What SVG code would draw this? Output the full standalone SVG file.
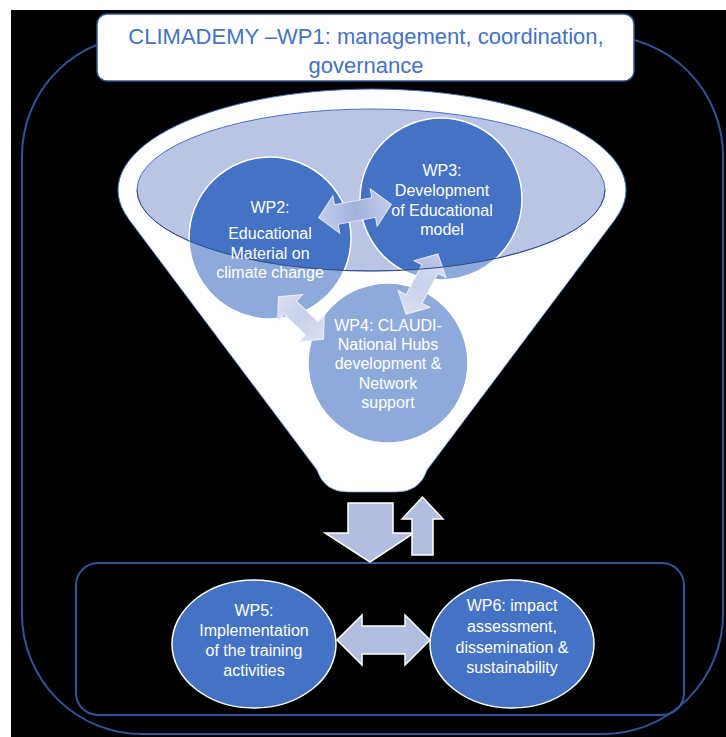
<svg xmlns="http://www.w3.org/2000/svg" width="726" height="737" viewBox="0 0 726 737">
  <defs>
    <style>
      .frame { fill: none; stroke: #2F5597; stroke-width: 2; }
      .wp { fill: #4472C4; stroke: #FFFFFF; stroke-width: 1.5; }
      .lbl { font-family: "Liberation Sans", Arial, sans-serif; font-size: 16px; fill: #FFFFFF; text-anchor: middle; }
      .title { font-family: "Liberation Sans", Arial, sans-serif; font-size: 22px; fill: #4472C4; text-anchor: middle; }
      .flow { fill: #B1BEE0; stroke: #FFFFFF; stroke-width: 1.5; }
      .link { fill: url(#linkFill); stroke: #E4E9F5; stroke-width: 1; }
    </style>
    <linearGradient id="linkFill" x1="0" y1="0" x2="1" y2="0">
      <stop offset="0" stop-color="#C3CCEA"/>
      <stop offset="0.5" stop-color="#A3B3DE"/>
      <stop offset="1" stop-color="#C3CCEA"/>
    </linearGradient>
  </defs>

  <!-- page -->
  <rect x="0" y="0" width="726" height="737" fill="#FFFFFF"/>
  <rect x="11" y="10" width="715" height="727" fill="#000000"/>

  <!-- outer project frame -->
  <rect id="frame-outer" class="frame" x="22" y="36" width="701" height="698" rx="120" ry="120"/>
  <!-- implementation frame -->
  <rect id="frame-inner" class="frame" x="76" y="563" width="608" height="152" rx="22" ry="22"/>

  <!-- funnel body -->
  <g id="funnel">
    <path d="M128.6,218.9 A254,101 0 1 1 615.4,218.9 L427,470 Q420,492 396,492 L348,492 Q324,492 317,470 Z" fill="#FFFFFF" stroke="#4472C4" stroke-width="1"/>
    <ellipse cx="371" cy="190" rx="234" ry="81" fill="#BAC4E4" stroke="#4472C4" stroke-width="1"/>
  </g>

  <!-- work package circles inside the funnel -->
  <g id="wp2"><circle class="wp" cx="270" cy="238" r="81"/></g>
  <g id="wp3"><circle class="wp" cx="441" cy="199" r="81"/></g>
  <g id="wp4"><circle class="wp" cx="388" cy="363" r="80"/></g>

  <!-- links between the funnel work packages -->
  <g id="links">
    <path class="link" transform="translate(355,211) rotate(-10.5)" d="M-37,0 L-19,-19 L-19,-10 L19,-10 L19,-19 L37,0 L19,19 L19,10 L-19,10 L-19,19 Z"/>
    <path class="link" transform="translate(301,318) rotate(43.5)" d="M-31,0 L-15,-18 L-15,-9 L15,-9 L15,-18 L31,0 L15,18 L15,9 L-15,9 L-15,18 Z"/>
    <path class="link" transform="translate(422,284) rotate(-62)" d="M-34,0 L-17,-18 L-17,-9 L17,-9 L17,-18 L34,0 L17,18 L17,9 L-17,9 L-17,18 Z"/>
  </g>

  <!-- translucent front wall of the funnel, below the rim -->
  <path id="funnel-front" d="M137,190 A234,81 0 0 0 605,190 L615.4,218.9 L427,470 Q420,492 396,492 L348,492 Q324,492 317,470 L128.6,218.9 Z" fill="#FFFFFF" fill-opacity="0.4"/>
  <path d="M137,190 A234,81 0 0 0 605,190" fill="none" stroke="#2F4A80" stroke-width="1"/>

  <!-- funnel labels -->
  <g id="wp2-label" class="lbl">
    <text x="270" y="213">WP2:</text>
    <text x="270" y="239">Educational</text>
    <text x="270" y="259">Material on</text>
    <text x="270" y="278">climate change</text>
  </g>
  <g id="wp3-label" class="lbl">
    <text x="442" y="176">WP3:</text>
    <text x="442" y="196">Development</text>
    <text x="442" y="216">of Educational</text>
    <text x="442" y="235">model</text>
  </g>
  <g id="wp4-label" class="lbl">
    <text x="388" y="331">WP4: CLAUDI-</text>
    <text x="388" y="350">National Hubs</text>
    <text x="388" y="369">development &amp;</text>
    <text x="388" y="389">Network</text>
    <text x="388" y="408">support</text>
  </g>

  <!-- header -->
  <g id="wp1">
    <rect x="97" y="14" width="537" height="67" rx="10" ry="10" fill="#FFFFFF" stroke="#2F5597" stroke-width="1.5"/>
    <text class="title" x="366" y="44">CLIMADEMY –WP1: management, coordination,</text>
    <text class="title" x="366" y="73">governance</text>
  </g>

  <!-- flow between funnel and implementation -->
  <g id="connectors">
    <path class="flow" d="M348,503 L393,503 L393,533 L414,533 L370,562 L325,533 L348,533 Z"/>
    <path class="flow" d="M412,555 L412,519 L402,519 L422.5,497 L443,519 L433,519 L433,555 Z"/>
    <path class="flow" d="M337,640 L362,615 L362,626 L405,626 L405,615 L430,640 L405,665 L405,654 L362,654 L362,665 Z"/>
  </g>

  <!-- implementation work packages -->
  <g id="wp5">
    <ellipse class="wp" cx="254" cy="644" rx="82" ry="64"/>
    <g class="lbl">
      <text x="254" y="616">WP5:</text>
      <text x="254" y="636">Implementation</text>
      <text x="254" y="656">of the training</text>
      <text x="254" y="676">activities</text>
    </g>
  </g>
  <g id="wp6">
    <ellipse class="wp" cx="512" cy="644" rx="82" ry="64"/>
    <g class="lbl">
      <text x="512" y="611">WP6: impact</text>
      <text x="512" y="632">assessment,</text>
      <text x="512" y="653">dissemination &amp;</text>
      <text x="512" y="673">sustainability</text>
    </g>
  </g>
</svg>
